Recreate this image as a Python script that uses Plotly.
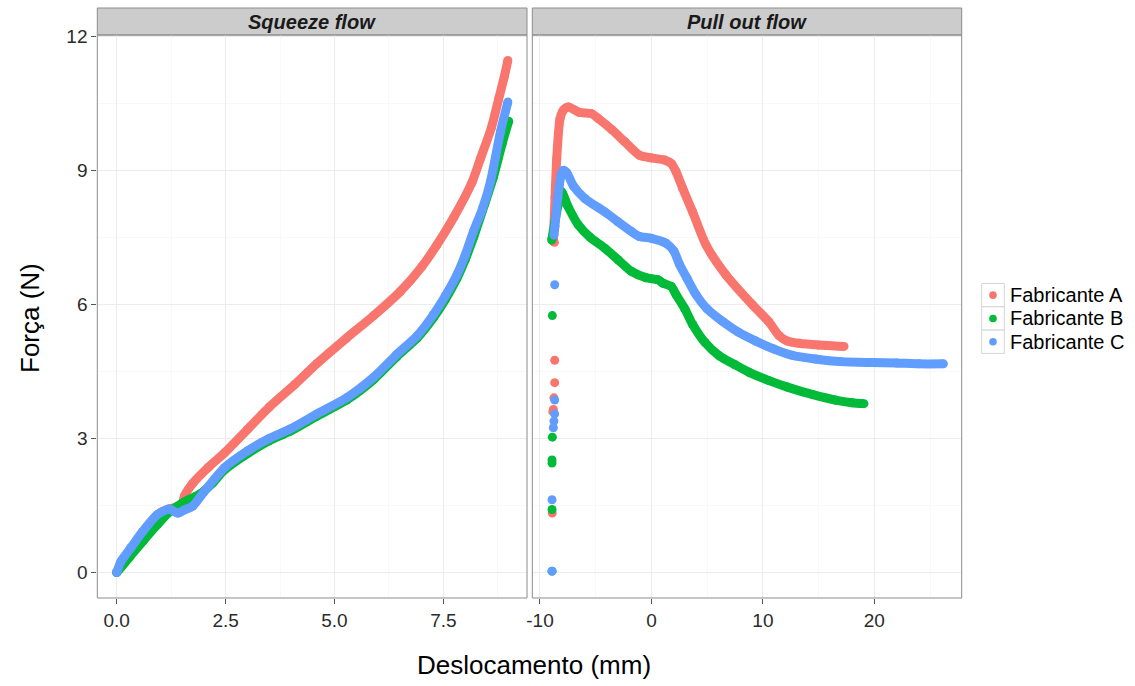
import plotly.graph_objects as go

# ---------------- data ----------------
series_names = ["Fabricante A", "Fabricante B", "Fabricante C"]
colors = ["#F8766D", "#00BA38", "#619CFF"]

# Squeeze flow panel
sq_A_x = [0, 0.15, 0.35, 0.6, 0.85, 1.02, 1.2, 1.4, 1.5, 1.56, 1.75, 2.1, 2.48, 3.0, 3.5, 4.09, 4.6, 5.28, 5.9, 6.51, 7.0, 7.35, 7.74, 8.16, 8.35, 8.6, 8.77, 8.9, 8.98]
sq_A_y = [0, 0.25, 0.55, 0.9, 1.2, 1.35, 1.42, 1.48, 1.52, 1.72, 2.0, 2.35, 2.68, 3.2, 3.7, 4.21, 4.68, 5.25, 5.75, 6.29, 6.84, 7.33, 7.95, 8.74, 9.26, 9.95, 10.6, 11.1, 11.46]

sq_B_x = [0, 0.3, 0.6, 0.94, 1.2, 1.5, 1.8, 2.0, 2.2, 2.48, 3.0, 3.5, 3.98, 4.6, 5.28, 5.9, 6.43, 6.9, 7.27, 7.55, 7.81, 8.0, 8.2, 8.45, 8.65, 8.85, 9.0]
sq_B_y = [0, 0.35, 0.7, 1.08, 1.35, 1.55, 1.7, 1.82, 2.0, 2.3, 2.66, 2.95, 3.16, 3.5, 3.86, 4.32, 4.83, 5.25, 5.7, 6.12, 6.58, 7.0, 7.52, 8.25, 8.85, 9.6, 10.1]

sq_C_x = [0, 0.1, 0.33, 0.6, 0.94, 1.21, 1.4, 1.55, 1.75, 2.0, 2.48, 3.0, 3.5, 3.98, 4.6, 5.28, 5.9, 6.43, 6.9, 7.27, 7.55, 7.81, 8.0, 8.19, 8.4, 8.58, 8.81, 8.98]
sq_C_y = [0, 0.25, 0.56, 0.92, 1.3, 1.42, 1.33, 1.4, 1.49, 1.8, 2.35, 2.72, 3.0, 3.21, 3.55, 3.91, 4.37, 4.88, 5.3, 5.77, 6.2, 6.66, 7.1, 7.63, 8.15, 8.74, 9.86, 10.53]

# Pull out flow panel: continuous curves
po_A_x = [-8.8, -8.65, -8.5, -8.2, -7.9, -7.46, -6.5, -5.37, -4.77, -3.5, -2.39, -1.07, 0.0, 1.19, 1.8, 2.21, 2.8, 3.7, 4.9, 6.69, 9.07, 10.5, 11.46, 12.2, 13.25, 15.0, 17.28]
po_A_y = [7.41, 8.4, 9.26, 10.16, 10.35, 10.42, 10.3, 10.27, 10.16, 9.9, 9.64, 9.34, 9.28, 9.23, 9.15, 8.97, 8.6, 8.07, 7.33, 6.66, 5.99, 5.62, 5.3, 5.18, 5.13, 5.09, 5.06]

po_B_x = [-8.95, -8.7, -8.4, -8.06, -7.5, -6.56, -5.5, -4.18, -3.0, -1.79, -0.5, 0.6, 1.01, 1.79, 2.21, 3.0, 3.7, 4.8, 6.09, 7.5, 8.77, 10.5, 12.2, 14.5, 16.5, 18.0, 19.07]
po_B_y = [7.44, 7.8, 8.2, 8.52, 8.2, 7.78, 7.5, 7.26, 7.0, 6.74, 6.6, 6.55, 6.48, 6.4, 6.22, 5.9, 5.55, 5.15, 4.85, 4.65, 4.48, 4.3, 4.15, 3.98, 3.86, 3.8, 3.78]

po_C_x = [-8.75, -8.66, -8.4, -8.1, -7.9, -7.6, -7.0, -5.97, -4.18, -3.0, -1.79, -1.07, 0.0, 1.31, 2.0, 2.51, 3.2, 4.0, 5.0, 6.38, 7.8, 9.37, 11.0, 12.65, 14.7, 17.0, 19.8, 22.0, 24.0, 26.2]
po_C_y = [7.55, 7.75, 8.4, 8.9, 9.0, 8.95, 8.65, 8.37, 8.07, 7.85, 7.63, 7.52, 7.48, 7.37, 7.2, 6.9, 6.58, 6.22, 5.9, 5.62, 5.38, 5.18, 5.0, 4.86, 4.78, 4.72, 4.7, 4.69, 4.67, 4.67]

# Pull out flow panel: isolated points at the start
pt_A_x = [-8.7, -8.68, -8.68, -8.75, -8.8, -8.85, -8.9]
pt_A_y = [7.39, 4.75, 4.25, 3.91, 3.65, 3.6, 1.33]
pt_B_x = [-8.89, -8.89, -8.92, -8.92, -8.92, -8.92]
pt_B_y = [5.75, 3.03, 2.52, 2.45, 1.41, 0.03]
pt_C_x = [-8.68, -8.68, -8.68, -8.75, -8.8, -8.92, -8.92]
pt_C_y = [6.44, 3.86, 3.55, 3.39, 3.24, 1.63, 0.03]

sq_x = [sq_A_x, sq_B_x, sq_C_x]
sq_y = [sq_A_y, sq_B_y, sq_C_y]
po_x = [po_A_x, po_B_x, po_C_x]
po_y = [po_A_y, po_B_y, po_C_y]
pt_x = [pt_A_x, pt_B_x, pt_C_x]
pt_y = [pt_A_y, pt_B_y, pt_C_y]

x1_ticks = [0.0, 2.5, 5.0, 7.5]
x1_ticklabels = ["0.0", "2.5", "5.0", "7.5"]
x2_ticks = [-10, 0, 10, 20]
x2_ticklabels = ["-10", "0", "10", "20"]
y_ticks = [0, 3, 6, 9, 12]
y_ticklabels = ["0", "3", "6", "9", "12"]

# ---------------- figure ----------------
W, H = 1135, 686
FONT = "Liberation Sans, Arial, sans-serif"
MS = 9

fig = go.Figure()
for i, name in enumerate(series_names):
    c = colors[i]
    fig.add_trace(go.Scatter(
        x=sq_x[i], y=sq_y[i], xaxis="x", yaxis="y", mode="lines+markers",
        line=dict(color=c, width=MS, shape="spline", smoothing=0.7),
        marker=dict(color=c, size=MS), name=name, legendgroup=name,
        showlegend=False))
    fig.add_trace(go.Scatter(
        x=po_x[i], y=po_y[i], xaxis="x2", yaxis="y2", mode="lines+markers",
        line=dict(color=c, width=MS, shape="spline", smoothing=0.7),
        marker=dict(color=c, size=MS), name=name, legendgroup=name,
        showlegend=False))
    fig.add_trace(go.Scatter(
        x=pt_x[i], y=pt_y[i], xaxis="x2", yaxis="y2", mode="markers",
        marker=dict(color=c, size=MS), name=name, legendgroup=name,
        showlegend=False))

# panel geometry in pixels
L1, R1 = 97.3, 527.0
L2, R2 = 532.3, 961.7
TOP, BOT = 35.0, 598.0
STRIP_TOP = 8.0


def px(xp):
    return xp / W


def py(yp):
    return 1 - yp / H


tickfont = dict(family=FONT, size=19, color="#2b2b2b")
grid_major = "#ececec"
grid_minor = "#f8f8f8"
tick_common = dict(zeroline=False, ticks="outside", ticklen=5, tickwidth=1,
                   tickcolor="#555555", tickfont=tickfont, showgrid=True,
                   gridcolor=grid_major, automargin=False, showline=False)

fig.update_layout(
    width=W, height=H, margin=dict(l=0, r=0, t=0, b=0, autoexpand=False),
    paper_bgcolor="white", plot_bgcolor="white",
    font=dict(family=FONT, color="#000000"),
    showlegend=False,
    xaxis=dict(domain=[px(L1), px(R1)], range=[-0.445, 9.42], anchor="y",
               tickvals=x1_ticks, ticktext=x1_ticklabels,
               minor=dict(dtick=1.25, tick0=0, showgrid=True, gridcolor=grid_minor, ticks=""),
               **tick_common),
    xaxis2=dict(domain=[px(L2), px(R2)], range=[-10.69, 27.84], anchor="y2",
                tickvals=x2_ticks, ticktext=x2_ticklabels,
                minor=dict(dtick=5, tick0=0, showgrid=True, gridcolor=grid_minor, ticks=""),
                **tick_common),
    yaxis=dict(domain=[py(BOT), py(TOP)], range=[-0.57, 12.03], anchor="x",
               tickvals=y_ticks, ticktext=y_ticklabels,
               minor=dict(dtick=1.5, tick0=0, showgrid=True, gridcolor=grid_minor, ticks=""),
               **tick_common),
    yaxis2=dict(domain=[py(BOT), py(TOP)], range=[-0.57, 12.03], anchor="x2",
                tickvals=y_ticks, showticklabels=False, ticks="", zeroline=False,
                showgrid=True, gridcolor=grid_major, automargin=False,
                minor=dict(dtick=1.5, tick0=0, showgrid=True, gridcolor=grid_minor, ticks="")),
)

shapes = []
for (l, r) in [(L1, R1), (L2, R2)]:
    shapes.append(dict(type="rect", xref="paper", yref="paper",
                       x0=px(l), x1=px(r), y0=py(TOP), y1=py(STRIP_TOP),
                       fillcolor="#cccccc", line=dict(color="#8c8c8c", width=1),
                       layer="below"))
    shapes.append(dict(type="rect", xref="paper", yref="paper",
                       x0=px(l), x1=px(r), y0=py(BOT), y1=py(TOP),
                       fillcolor="rgba(0,0,0,0)", line=dict(color="#8c8c8c", width=1),
                       layer="above"))

ann = []
strip_titles = ["Squeeze flow", "Pull out flow"]
for (l, r), t in zip([(L1, R1), (L2, R2)], strip_titles):
    ann.append(dict(text="<b><i>" + t + "</i></b>", xref="paper", yref="paper",
                    x=px((l + r) / 2), y=py((TOP + STRIP_TOP) / 2 + 1),
                    xanchor="center", yanchor="middle", showarrow=False,
                    font=dict(family=FONT, size=20, color="#1a1a1a")))
ann.append(dict(text="Deslocamento (mm)", xref="paper", yref="paper",
                x=px(534), y=py(665), xanchor="center", yanchor="middle",
                showarrow=False, font=dict(family=FONT, size=26, color="#000000")))
ann.append(dict(text="Força (N)", xref="paper", yref="paper",
                x=px(30), y=py(318), xanchor="center", yanchor="middle",
                textangle=-90, showarrow=False,
                font=dict(family=FONT, size=26, color="#000000")))

# legend (ggplot style: boxed keys with a dot, labels to the right)
KEY_L, KEY_R = 981.7, 1004.3
KEY_TOP, KEY_H = 283.5, 23.3
DOT_R = 3.8
for i, name in enumerate(series_names):
    y0 = KEY_TOP + i * KEY_H
    y1 = y0 + KEY_H
    yc = (y0 + y1) / 2
    xc = (KEY_L + KEY_R) / 2
    shapes.append(dict(type="rect", xref="paper", yref="paper",
                       x0=px(KEY_L), x1=px(KEY_R), y0=py(y1), y1=py(y0),
                       fillcolor="white", line=dict(color="#d4d4d4", width=1)))
    shapes.append(dict(type="circle", xref="paper", yref="paper",
                       x0=px(xc - DOT_R), x1=px(xc + DOT_R),
                       y0=py(yc + DOT_R), y1=py(yc - DOT_R),
                       fillcolor=colors[i], line=dict(color=colors[i], width=0)))
    ann.append(dict(text=name, xref="paper", yref="paper",
                    x=px(1007.5), y=py(yc), xanchor="left", yanchor="middle",
                    showarrow=False,
                    font=dict(family=FONT, size=20, color="#000000")))

fig.update_layout(shapes=shapes, annotations=ann)

fig.write_html("out.html")
